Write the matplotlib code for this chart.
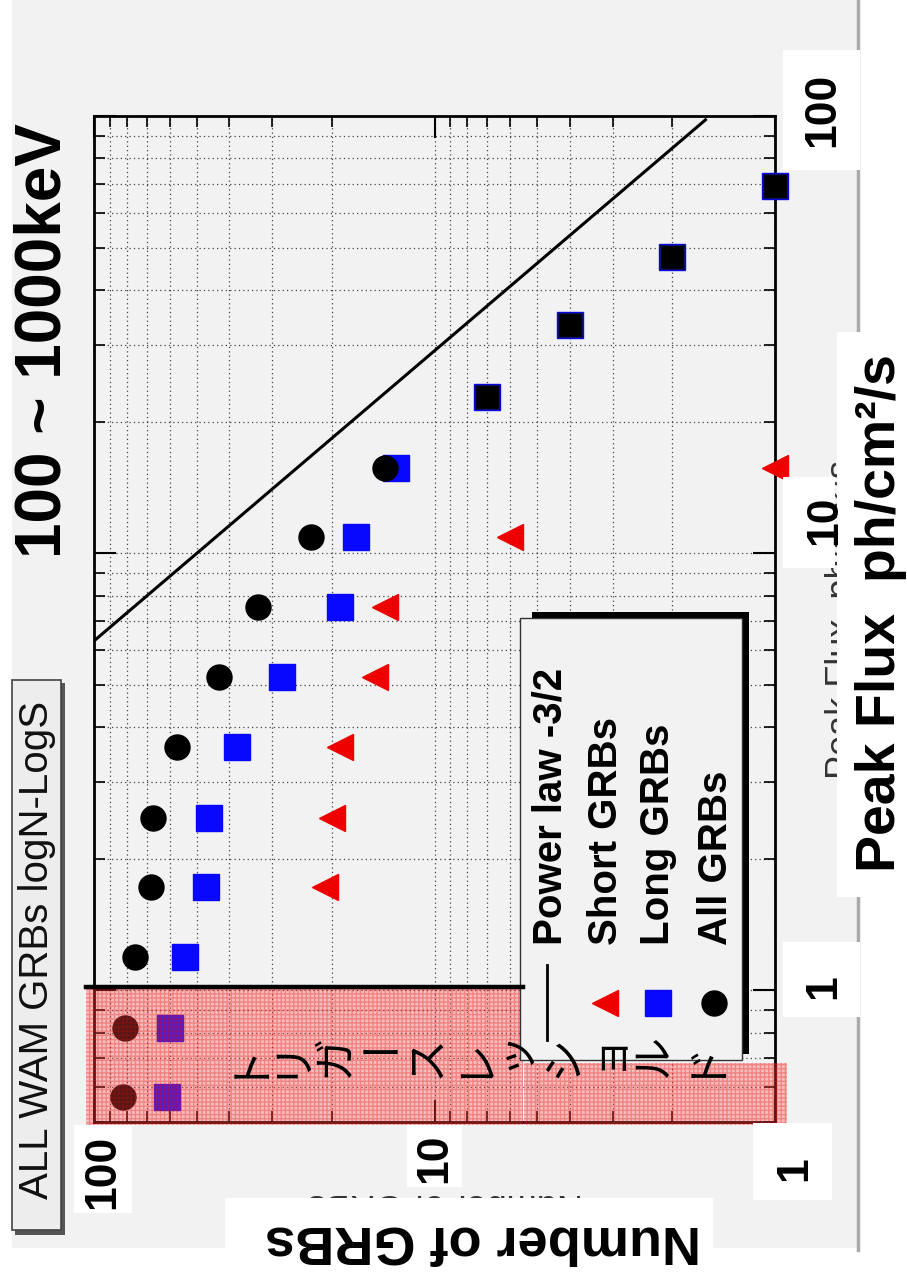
import matplotlib
matplotlib.use('Agg')
import matplotlib.pyplot as plt
from matplotlib.patches import Rectangle
from matplotlib.ticker import NullFormatter

# ---- data ----
flux_bins = [0.57, 0.82, 1.19, 1.72, 2.48, 3.61, 5.22, 7.55, 10.9, 15.7, 22.8, 33.2, 47.7, 69.0]
all_n = [82, 81, 76, 68, 67, 57, 43, 33, 23, 14, 7, 4, 2, 1]
long_n = [61, 60, 54, 47, 46, 38, 28, 19, 17, 13, 7, 4, 2, 1]
short_flux = [1.72, 2.48, 3.61, 5.22, 7.55, 10.9, 15.7]
short_n = [21, 20, 19, 15, 14, 6, 1]
powerlaw_flux = [6.3, 98.0]
powerlaw_n = [100.0, 1.6]

n_ticks = ['100', '10', '1']
flux_ticks = ['100', '10', '1']
legend_labels = ['Power law -3/2', 'Short GRBs', 'Long GRBs', 'All GRBs']
threshold_text = 'トリガ\u30fcスレッショルド'

W, H = 907, 1274
FONT = 'Liberation Sans'
BARS = '\u30fc\uff70\uff0d\u2015\u2014\u2010\u2212\u2500\u4e00-'

fig = plt.figure(figsize=(W / 100, H / 100), dpi=100)
fig.patch.set_facecolor('white')


def frac(x0, y0, x1, y1):
    return [x0 / W, 1 - y1 / H, (x1 - x0) / W, (y1 - y0) / H]


def pixel_axes(z):
    a = fig.add_axes([0, 0, 1, 1], zorder=z)
    a.set_xlim(0, W)
    a.set_ylim(H, 0)
    a.axis('off')
    a.patch.set_alpha(0)
    return a


# slide background
bg = pixel_axes(0)
bg.add_patch(Rectangle((12, 0), 846, 1248, fc='#f2f2f2', ec='none'))
bg.plot([858, 858], [0, 1250], color='#aaaaaa', lw=2.5)

# ---- main plot (rotated: x = number of GRBs, y = peak flux) ----
ax = fig.add_axes(frac(94, 116, 775, 1122), zorder=1)
ax.set_facecolor('#f2f2f2')
ax.set_xscale('log')
ax.set_yscale('log')
ax.set_xlim(100, 1)
ax.set_ylim(0.5, 100)
ax.xaxis.set_minor_formatter(NullFormatter())
ax.yaxis.set_minor_formatter(NullFormatter())
ax.grid(True, which='both', color='#444444', linestyle=(0, (1, 2.5)), lw=0.9)
ax.tick_params(which='both', direction='in', top=True, right=True,
               labelbottom=False, labelleft=False)
ax.tick_params(which='major', length=16, width=1.5)
ax.tick_params(which='minor', length=8, width=1.2)
for s in ax.spines.values():
    s.set_linewidth(2)

ax.plot(powerlaw_n, powerlaw_flux, color='black', lw=2.2, zorder=2)
ax.plot(long_n, flux_bins, 's', color='#0808ff', ms=19, mec='#0808ff',
        clip_on=False, zorder=3)
ax.plot(short_n, short_flux, '<', color='#ee0000', ms=19, mec='#ee0000',
        clip_on=False, zorder=3)
n_circ = 10
ax.plot(all_n[:n_circ], flux_bins[:n_circ], 'o', color='black', ms=18,
        clip_on=False, zorder=4)
ax.plot(all_n[n_circ:], flux_bins[n_circ:], 's', color='black', ms=17,
        mec='#101060', clip_on=False, zorder=4)

# ---- overlays (pixel coordinates) ----
ov = pixel_axes(2)

# faint original axis titles (mostly hidden by the white patches)
ov.text(843, 620, 'Peak Flux  ph/cm²/s', rotation=90, ha='center', va='center',
        fontsize=26, family=FONT, color='#333333', zorder=1)
ov.text(445, 1204, 'Number of GRBs', rotation=180, ha='center', va='center',
        fontsize=26, family=FONT, color='#333333', zorder=1)

# trigger threshold shading
pink = dict(fc=(1, 0.3, 0.3, 0.32), ec=(0.9, 0, 0, 0.3), lw=0, hatch='++++', zorder=2)
ov.add_patch(Rectangle((86, 987), 437, 138, **pink))
ov.add_patch(Rectangle((524, 1063), 263, 62, **pink))
ov.plot([86, 523], [987, 987], color='black', lw=3.2, zorder=3)

# vertical-writing label, turned with the slide
x0, step = 243, 45.7
for i, ch in enumerate(threshold_text):
    dx, dy = 0, 0
    if ch in 'ッョ':
        dx, dy = -4, -8
    rot = 0 if ch in BARS else 90
    ov.text(x0 + i * step + dx, 1057 + dy, ch, rotation=rot, ha='center',
            va='center', fontsize=31, family='Noto Sans CJK JP', color='black',
            zorder=4)

# legend box (rotated) with shadow
ov.add_patch(Rectangle((532, 612), 217, 442, fc='black', ec='none', zorder=2))
ov.add_patch(Rectangle((520, 618), 222, 442, fc='#f2f2f2', ec='#333333', lw=1, zorder=2))
col_x = [551, 606, 658, 716]
for cx, lab in zip(col_x, legend_labels):
    ov.text(cx, 945, lab, rotation=90, ha='center', va='bottom', fontsize=29,
            family=FONT, weight='bold', color='black', zorder=3)
ov.plot([547, 547], [965, 1040], color='black', lw=2, zorder=3)
ov.plot(605, 1003, '<', color='#ee0000', ms=19, zorder=3)
ov.plot(658, 1003, 's', color='#0808ff', ms=19, zorder=3)
ov.plot(714, 1003, 'o', color='black', ms=18, zorder=3)

# white label patches
for (bx, by, bw, bh) in [(74, 1125, 58, 88), (407, 1125, 55, 62), (753, 1123, 79, 77),
                         (783, 50, 77, 120), (783, 477, 52, 91), (783, 942, 77, 75),
                         (837, 332, 70, 565), (225, 1198, 488, 76)]:
    ov.add_patch(Rectangle((bx, by), bw, bh, fc='white', ec='none', zorder=2))

for (tx, ty), lab in zip([(103, 1172), (435, 1158), (795, 1169)], n_ticks):
    ov.text(tx, ty, lab, rotation=90, ha='center', va='center', fontsize=32,
            family=FONT, weight='bold', zorder=3)
for (tx, ty), lab in zip([(823, 110), (825, 520), (824, 987)], flux_ticks):
    ov.text(tx, ty, lab, rotation=90, ha='center', va='center', fontsize=32,
            family=FONT, weight='bold', zorder=3)

ov.text(881, 613, 'Peak Flux  ph/cm²/s', rotation=90, ha='center', va='center',
        fontsize=40, family=FONT, weight='bold', zorder=3)
ov.text(483, 1240, 'Number of GRBs', rotation=180, ha='center', va='center',
        fontsize=39, family=FONT, weight='bold', zorder=3)

# title and pave
ov.text(44, 341, '100 ~ 1000keV', rotation=90, ha='center', va='center',
        fontsize=46, family=FONT, weight='bold', zorder=3)
ov.add_patch(Rectangle((15, 683), 50, 552, fc='#555555', ec='none', zorder=2))
ov.add_patch(Rectangle((12, 680), 49, 550, fc='#ededed', ec='#444444', lw=1.2, zorder=2))
ov.text(37, 950, 'ALL WAM GRBs logN-LogS', rotation=90, ha='center', va='center',
        fontsize=29, family=FONT, color='#111111', zorder=3)

fig.savefig('out.png', dpi=100)
